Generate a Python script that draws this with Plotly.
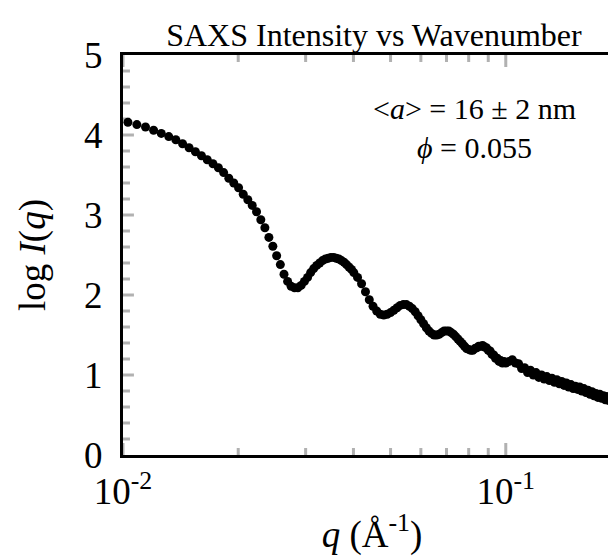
import math
import plotly.graph_objects as go

# q values (1/Angstrom)
q_low = [0.01030, 0.01087, 0.01145, 0.01202, 0.01259, 0.01317, 0.01374, 0.01431,
         0.01488, 0.01546, 0.01603, 0.01660, 0.01718, 0.01775, 0.01832, 0.01890,
         0.01947, 0.02004, 0.02061, 0.02119, 0.02176, 0.02233, 0.02291, 0.02348,
         0.02405, 0.02463, 0.02520, 0.02577, 0.02634, 0.02692, 0.02749, 0.02806,
         0.02863, 0.02920, 0.02978, 0.03035, 0.03092, 0.03149, 0.03207, 0.03264,
         0.03321, 0.03379, 0.03436, 0.03493, 0.03551, 0.03608, 0.03665, 0.03722,
         0.03780, 0.03837, 0.03894, 0.03952, 0.04009]
logI_low = [4.16, 4.13, 4.10, 4.06, 4.02, 3.98, 3.94, 3.89,
            3.84, 3.79, 3.74, 3.69, 3.64, 3.59, 3.53, 3.46,
            3.40, 3.34, 3.26, 3.19, 3.12, 3.04, 2.94, 2.84,
            2.72, 2.61, 2.49, 2.38, 2.26, 2.17, 2.11, 2.09,
            2.09, 2.12, 2.17, 2.22, 2.28, 2.33, 2.37, 2.40,
            2.43, 2.45, 2.46, 2.47, 2.47, 2.46, 2.45, 2.43,
            2.41, 2.38, 2.35, 2.32, 2.28]

q_mid = [0.041, 0.042, 0.043, 0.044, 0.045, 0.046, 0.047, 0.048, 0.049, 0.050,
         0.051, 0.052, 0.053, 0.054, 0.055, 0.056, 0.057, 0.058, 0.059, 0.060,
         0.061, 0.062, 0.063, 0.064, 0.065, 0.066, 0.067, 0.068, 0.069, 0.070,
         0.071, 0.072, 0.073, 0.074, 0.075, 0.076, 0.077, 0.078, 0.079, 0.080,
         0.081, 0.082, 0.083, 0.084, 0.085, 0.086, 0.087, 0.088, 0.089, 0.090,
         0.091, 0.092, 0.093, 0.094, 0.095, 0.096, 0.097, 0.098, 0.099, 0.100]
logI_mid = [2.22, 2.14, 2.04, 1.94, 1.86, 1.80, 1.76, 1.75, 1.76, 1.78,
            1.81, 1.84, 1.87, 1.88, 1.88, 1.86, 1.83, 1.79, 1.74, 1.69,
            1.64, 1.59, 1.55, 1.52, 1.50, 1.50, 1.51, 1.53, 1.55, 1.55,
            1.55, 1.53, 1.51, 1.48, 1.45, 1.42, 1.39, 1.36, 1.33, 1.32,
            1.31, 1.31, 1.33, 1.34, 1.36, 1.36, 1.37, 1.35, 1.34, 1.31,
            1.30, 1.26, 1.25, 1.21, 1.21, 1.17, 1.18, 1.15, 1.17, 1.15]

q_high = [0.102, 0.104, 0.106, 0.108, 0.110, 0.112, 0.114, 0.116, 0.118, 0.120,
          0.122, 0.124, 0.126, 0.128, 0.130, 0.132, 0.134, 0.136, 0.138, 0.140,
          0.142, 0.144, 0.146, 0.148, 0.150, 0.152, 0.154, 0.156, 0.158, 0.160,
          0.162, 0.164, 0.166, 0.168, 0.170, 0.172, 0.174, 0.176, 0.178, 0.180,
          0.182, 0.184, 0.186, 0.188, 0.190, 0.192, 0.194, 0.196, 0.198, 0.200]
logI_high = [1.17, 1.19, 1.15, 1.14, 1.08, 1.09, 1.03, 1.06, 1.00, 1.03,
             0.97, 1.00, 0.95, 0.98, 0.93, 0.96, 0.91, 0.94, 0.89, 0.92,
             0.87, 0.90, 0.85, 0.88, 0.83, 0.86, 0.82, 0.85, 0.80, 0.83,
             0.78, 0.81, 0.76, 0.79, 0.74, 0.77, 0.72, 0.76, 0.71, 0.74,
             0.69, 0.73, 0.68, 0.71, 0.66, 0.70, 0.65, 0.68, 0.63, 0.67]

x_tickvals = [0.01, 0.1]
x_ticktext = ["10<sup>-2</sup>", "10<sup>-1</sup>"]
x_minor = [0.02, 0.03, 0.04, 0.05, 0.06, 0.07, 0.08, 0.09, 0.2]
y_tickvals = [0, 1, 2, 3, 4, 5]
y_minor = [0.2, 0.4, 0.6, 0.8, 1.2, 1.4, 1.6, 1.8, 2.2, 2.4, 2.6, 2.8,
           3.2, 3.4, 3.6, 3.8, 4.2, 4.4, 4.6, 4.8]

q = q_low + q_mid + q_high
logI = logI_low + logI_mid + logI_high

FONT = "Liberation Serif, Times New Roman, serif"
X_RANGE = [-2, -0.69897]
Y_RANGE = [0, 5]

W, H = 616, 556
M_L, M_R, M_T, M_B = 115, 0, 47, 109
PLOT_W = W - M_L - M_R
PLOT_H = H - M_T - M_B

fig = go.Figure()
fig.add_trace(go.Scatter(
    x=q, y=logI, mode="markers",
    marker=dict(color="black", size=9, line=dict(width=0)),
    showlegend=False,
))

fig.update_layout(
    xaxis=dict(
        type="log", range=X_RANGE,
        showline=True, linecolor="black", linewidth=3, mirror=True,
        showgrid=False, zeroline=False,
        tickmode="array", tickvals=x_tickvals, ticktext=x_ticktext,
        ticks="", ticklabelstandoff=2,
        tickfont=dict(family=FONT, size=37, color="black"),
        title=dict(text="<i>q</i> (Å<sup>-1</sup>)",
                   font=dict(family=FONT, size=37, color="black"), standoff=10),
    ),
    yaxis=dict(
        range=Y_RANGE,
        showline=True, linecolor="black", linewidth=3, mirror=True,
        showgrid=False, zeroline=False,
        tickmode="array", tickvals=y_tickvals,
        ticks="", ticklabelstandoff=10,
        tickfont=dict(family=FONT, size=37, color="black"),
        title=dict(text="log <i>I</i>(<i>q</i>)",
                   font=dict(family=FONT, size=37, color="black"), standoff=28),
    ),
)


# tick marks drawn inside the frame on all four sides, from the tick arrays
def x_frac(v):
    return (math.log10(v) - X_RANGE[0]) / (X_RANGE[1] - X_RANGE[0])


tick_line = dict(color="black", width=3)
for vals, length in ((x_tickvals, 12), (x_minor, 7)):
    frac = length / PLOT_H
    for v in vals:
        xf = x_frac(v)
        fig.add_shape(type="line", xref="paper", yref="paper",
                      x0=xf, x1=xf, y0=0, y1=frac, line=tick_line, layer="above")
        fig.add_shape(type="line", xref="paper", yref="paper",
                      x0=xf, x1=xf, y0=1, y1=1 - frac, line=tick_line, layer="above")
for vals, length in ((y_tickvals[1:-1], 11), (y_minor, 7)):
    frac = length / PLOT_W
    for v in vals:
        fig.add_shape(type="line", xref="paper", yref="y",
                      x0=0, x1=frac, y0=v, y1=v, line=tick_line, layer="above")
        fig.add_shape(type="line", xref="paper", yref="y",
                      x0=1, x1=1 - frac, y0=v, y1=v, line=tick_line, layer="above")

fig.add_annotation(
    xref="paper", yref="paper", x=0.705, y=0.8175,
    xanchor="center", yanchor="middle",
    text="&lt;<i>a</i>&gt; = 16 ± 2 nm<br><i>ϕ</i> = 0.055",
    showarrow=False, align="center",
    font=dict(family=FONT, size=30, color="black"),
)

fig.update_layout(
    template="simple_white",
    width=W, height=H,
    margin=dict(l=M_L, r=M_R, t=M_T, b=M_B),
    paper_bgcolor="white", plot_bgcolor="white",
    title=dict(text="SAXS Intensity vs Wavenumber", x=0.594, xanchor="center",
               y=0.952, yanchor="middle",
               font=dict(family=FONT, size=32, color="black")),
)

fig.write_html("out.html")
